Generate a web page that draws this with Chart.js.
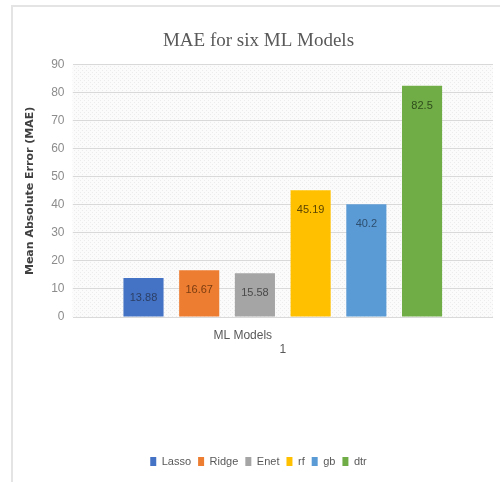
<!DOCTYPE html>
<html>
<head>
<meta charset="utf-8">
<script src="https://cdn.jsdelivr.net/npm/chart.js@4.4.0/dist/chart.umd.min.js"></script>
<style>
  html, body { margin: 0; padding: 0; background: #fff; }
  #marco {
    position: absolute; left: 11px; top: 5px; width: 489px; height: 477px;
    border-left: 2px solid #e4e4e4; border-top: 2px solid #e4e4e4;
    box-sizing: border-box;
  }
  #lienzo { position: absolute; left: 0; top: 0; width: 500px; height: 482px; }
</style>
</head>
<body>
<div id="marco"></div>
<div id="lienzo"><canvas id="graficoMAE" width="500" height="482"></canvas></div>
<script>
// DATOS
const modelos = ['Lasso', 'Ridge', 'Enet', 'rf', 'gb', 'dtr'];
const valoresMAE = [13.88, 16.67, 15.58, 45.19, 40.2, 82.5];
const categorias = ['1'];
const ticksY = [0, 10, 20, 30, 40, 50, 60, 70, 80, 90];
const coloresBarras = ['#4472C4', '#ED7D31', '#A5A5A5', '#FFC000', '#5B9BD5', '#70AD47'];
const coloresEtiquetas = ['#2c3f66', '#7a3c10', '#4a4a4a', '#5c4500', '#2d4f70', '#2f4d1c'];

const fuenteEstrecha = "'Liberation Sans Narrow', 'Liberation Sans', sans-serif";

// fondo punteado del area de trazado
const fondoArea = {
  id: 'fondoArea',
  beforeDraw(chart) {
    const { ctx, chartArea: a } = chart;
    const p = document.createElement('canvas');
    p.width = 4; p.height = 4;
    const pc = p.getContext('2d');
    pc.fillStyle = '#fbfbfb';
    pc.fillRect(0, 0, 4, 4);
    pc.fillStyle = '#ececec';
    pc.fillRect(0, 0, 1, 1);
    pc.fillRect(2, 2, 1, 1);
    ctx.save();
    ctx.fillStyle = ctx.createPattern(p, 'repeat');
    ctx.fillRect(a.left, a.top, a.right - a.left, a.bottom - a.top);
    ctx.restore();
  }
};

// etiquetas de valor dentro de cada barra + titulo del eje X
const etiquetas = {
  id: 'etiquetas',
  afterDatasetsDraw(chart) {
    const { ctx, chartArea: a } = chart;
    ctx.save();
    ctx.font = '11px ' + fuenteEstrecha;
    ctx.textAlign = 'center';
    ctx.textBaseline = 'middle';
    chart.data.datasets.forEach((ds, i) => {
      const barra = chart.getDatasetMeta(i).data[0];
      ctx.fillStyle = coloresEtiquetas[i];
      ctx.fillText(String(ds.data[0]), barra.x, barra.y + 20);
    });
    ctx.fillStyle = '#595959';
    ctx.font = '12px ' + fuenteEstrecha;
    ctx.fillText('ML Models', (a.left + a.right) / 2 - 40, a.bottom + 19);
    ctx.restore();
  }
};

new Chart(document.getElementById('graficoMAE'), {
  type: 'bar',
  data: {
    labels: categorias,
    datasets: modelos.map((m, i) => ({
      label: m,
      data: [valoresMAE[i]],
      backgroundColor: coloresBarras[i],
      borderWidth: 0,
      categoryPercentage: 0.795,
      barPercentage: 0.72
    }))
  },
  options: {
    responsive: false,
    animation: false,
    devicePixelRatio: 1,
    layout: { padding: { left: 24, right: 7, top: 6, bottom: 5 } },
    plugins: {
      title: {
        display: true,
        text: 'MAE for six ML Models',
        color: '#595959',
        font: { family: "'Liberation Serif', 'DejaVu Serif', serif", size: 19, weight: 'normal' },
        padding: { top: 24, bottom: 12 }
      },
      legend: {
        position: 'bottom',
        labels: {
          boxWidth: 6,
          boxHeight: 9,
          padding: 7,
          color: '#595959',
          font: { family: fuenteEstrecha, size: 11 }
        }
      },
      tooltip: { enabled: false }
    },
    scales: {
      x: {
        grid: { display: false },
        border: { display: false },
        ticks: {
          color: '#595959',
          padding: 17,
          font: { family: fuenteEstrecha, size: 12 }
        },
        afterFit: scale => { scale.height = 132; }
      },
      y: {
        min: 0,
        max: 90,
        afterBuildTicks: scale => { scale.ticks = ticksY.map(v => ({ value: v })); },
        grid: { color: '#d9d9d9', drawTicks: false },
        border: { display: false },
        ticks: {
          color: '#8c8c8c',
          padding: 8,
          font: { family: fuenteEstrecha, size: 12 }
        },
        title: {
          display: true,
          text: 'Mean Absolute Error (MAE)',
          color: '#404040',
          font: { family: "'DejaVu Sans', sans-serif", size: 11, weight: 'bold' },
          padding: { top: 0, bottom: 6 }
        }
      }
    }
  },
  plugins: [fondoArea, etiquetas]
});
</script>
</body>
</html>
